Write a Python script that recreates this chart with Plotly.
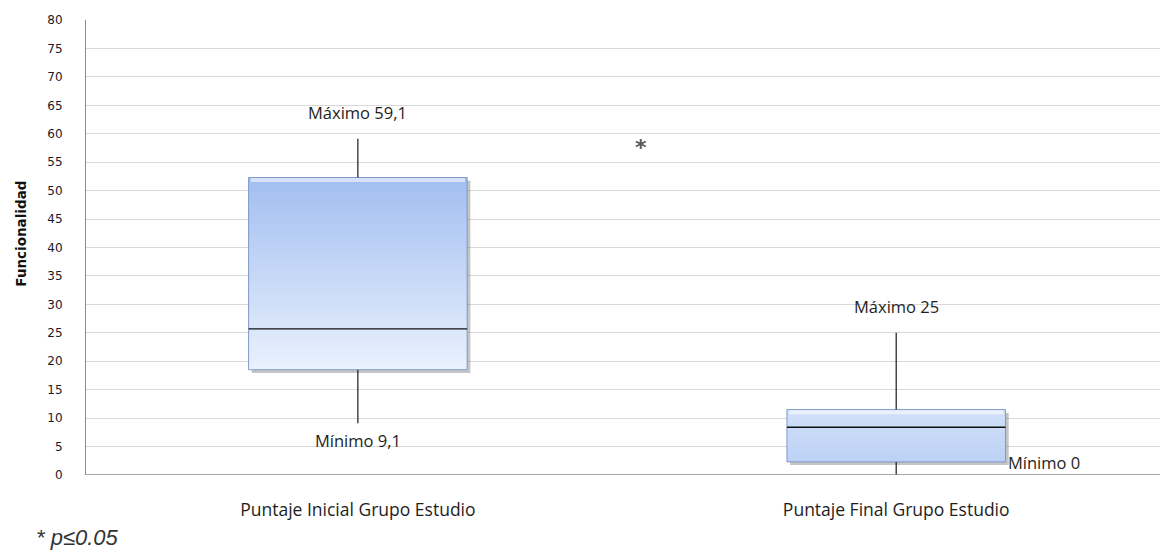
import plotly.graph_objects as go

# Box-plot summary values per group
categories = ["Puntaje Inicial Grupo Estudio", "Puntaje Final Grupo Estudio"]
minimum = [9.1, 0.0]
q1 = [18.5, 2.3]
median = [25.7, 8.4]
q3 = [52.3, 11.5]
maximum = [59.1, 25.0]
max_labels = ["Máximo 59,1", "Máximo 25"]
min_labels = ["Mínimo 9,1", "Mínimo 0"]

y_ticks = list(range(0, 81, 5))

HALF = 0.203  # half box width in category units
gradients = [
    [[0, "#e9f1fd"], [1, "#a2bef0"]],
    [[0, "#bcd1f5"], [1, "#d2e1f9"]],
]

fig = go.Figure()

for i in range(len(categories)):
    x0, x1 = i - HALF, i + HALF
    # soft drop shadow
    dx, dy = 0.006, 0.55
    fig.add_trace(go.Scatter(
        x=[x0 + dx, x1 + dx, x1 + dx, x0 + dx, x0 + dx],
        y=[q1[i] - dy, q1[i] - dy, q3[i] - dy, q3[i] - dy, q1[i] - dy],
        fill="toself", fillcolor="rgba(90,90,90,0.35)",
        line=dict(width=0), mode="lines", hoverinfo="skip", showlegend=False,
    ))
    # box body with vertical gradient
    fig.add_trace(go.Scatter(
        x=[x0, x1, x1, x0, x0],
        y=[q1[i], q1[i], q3[i], q3[i], q1[i]],
        fill="toself",
        fillgradient=dict(type="vertical", colorscale=gradients[i]),
        line=dict(color="rgba(120,145,195,0.9)", width=1),
        mode="lines", hoverinfo="skip", showlegend=False,
    ))
    # bevel highlight along the top edge
    fig.add_trace(go.Scatter(
        x=[x0 + 0.004, x1 - 0.004], y=[q3[i] - 0.45, q3[i] - 0.45],
        mode="lines", line=dict(color="rgba(255,255,255,0.55)", width=4),
        hoverinfo="skip", showlegend=False,
    ))
    # whiskers
    fig.add_trace(go.Scatter(
        x=[i, i, None, i, i],
        y=[q3[i], maximum[i], None, minimum[i], q1[i]],
        mode="lines", line=dict(color="#2a2a2a", width=1.3),
        hoverinfo="skip", showlegend=False,
    ))
    # median
    fig.add_trace(go.Scatter(
        x=[x0, x1], y=[median[i], median[i]],
        mode="lines", line=dict(color="#111111", width=1.3),
        hoverinfo="skip", showlegend=False,
    ))

label_font = dict(family="Open Sans", size=16.5, color="#1e1e1e")

# value labels
fig.add_annotation(x=0, y=maximum[0], text=max_labels[0], showarrow=False,
                   yanchor="bottom", yshift=13, font=label_font)
fig.add_annotation(x=0, y=minimum[0], text=min_labels[0], showarrow=False,
                   yanchor="top", yshift=-4, font=label_font)
fig.add_annotation(x=1, y=maximum[1], text=max_labels[1], showarrow=False,
                   yanchor="bottom", yshift=13, font=label_font)
fig.add_annotation(x=1 + HALF, y=minimum[1], text=min_labels[1], showarrow=False,
                   xanchor="left", yanchor="middle", xshift=1, yshift=13,
                   font=label_font)

# significance mark
fig.add_annotation(x=0.525, y=57.5, text="<b>*</b>", showarrow=False,
                   font=dict(family="DejaVu Sans", size=22, color="#5a5a5a"))

# axis title
fig.add_annotation(xref="paper", yref="paper", x=-0.07, y=0.53,
                   text="<b>Funcionalidad</b>", textangle=-90, showarrow=False,
                   font=dict(family="DejaVu Sans", size=13.5, color="#111111"))

# footnote
fig.add_annotation(xref="paper", yref="paper", x=-0.048, y=-0.137,
                   xanchor="left", yanchor="middle",
                   text="<i>* p≤0.05</i>", showarrow=False,
                   font=dict(family="Liberation Sans", size=22, color="#333333"))

fig.update_layout(
    width=1160, height=552,
    margin=dict(l=86, r=0, t=20, b=77),
    paper_bgcolor="white", plot_bgcolor="white",
    font=dict(family="Open Sans", color="#1e1e1e"),
    xaxis=dict(
        range=[-0.505, 1.49], tickvals=[0, 1], ticktext=categories,
        showgrid=False, zeroline=False, showline=False, ticks="",
        tickfont=dict(family="Open Sans", size=17.5, color="#1e1e1e"),
        ticklabelstandoff=22,
    ),
    yaxis=dict(
        range=[0, 80], tickvals=y_ticks, showgrid=True, gridcolor="#d9d9d9",
        gridwidth=1, zeroline=False, showline=True, linecolor="#8c8c8c",
        linewidth=1, ticks="", ticklabelstandoff=20,
        tickfont=dict(family="DejaVu Sans", size=12, color="#1a1a2a"),
    ),
    shapes=[dict(type="line", xref="paper", yref="y", x0=0, x1=1, y0=0, y1=0,
                 line=dict(color="#8c8c8c", width=1.5))],
)

fig.write_html("out.html")
